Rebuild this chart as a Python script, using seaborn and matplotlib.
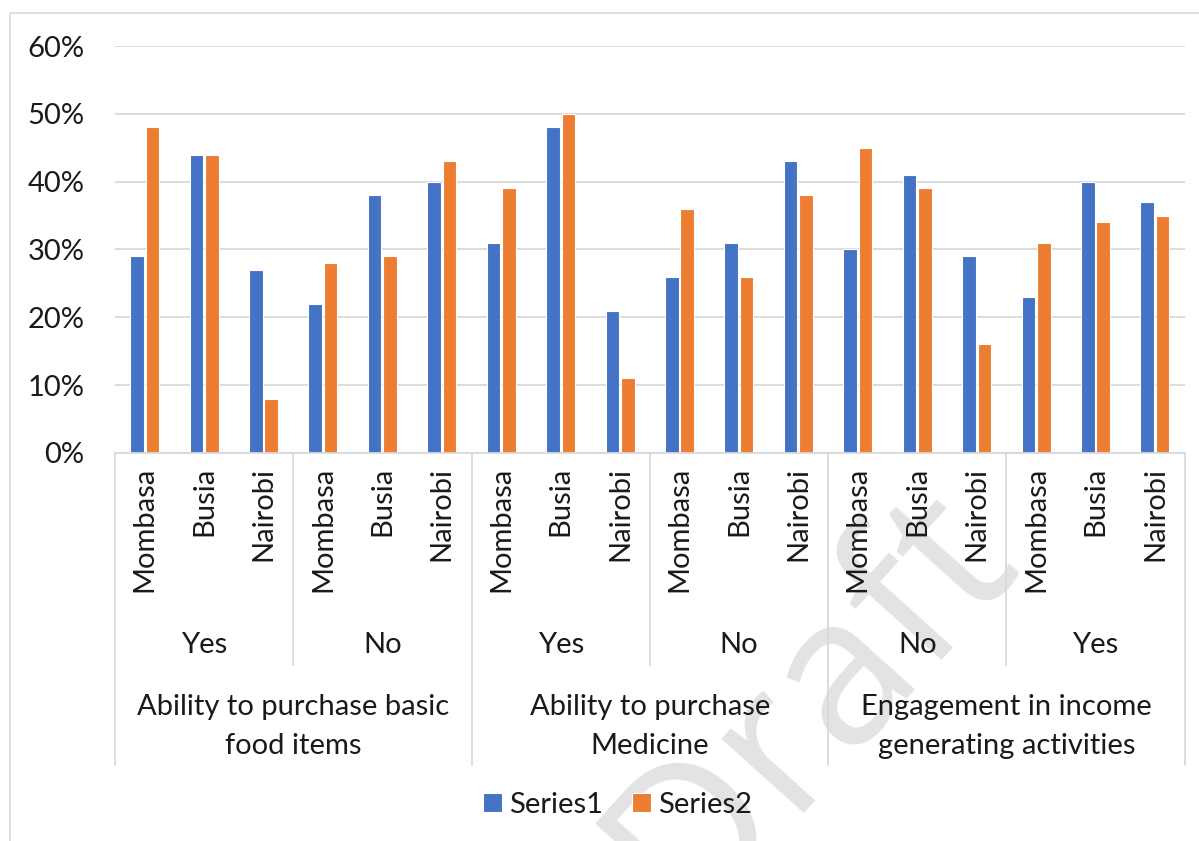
import numpy as np
import pandas as pd
import seaborn as sns
import matplotlib.pyplot as plt
import matplotlib.transforms as mtrans
from matplotlib.ticker import PercentFormatter
from matplotlib.patches import Rectangle

# data (percent)
groups = ['Ability to purchase basic\nfood items', 'Ability to purchase\nMedicine',
          'Engagement in income\ngenerating activities']
answers = ['Yes', 'No', 'Yes', 'No', 'No', 'Yes']
cities = ['Mombasa', 'Busia', 'Nairobi']
series1 = [29, 44, 27, 22, 38, 40, 31, 48, 21, 26, 31, 43, 30, 41, 29, 23, 40, 37]
series2 = [48, 44, 8, 28, 29, 43, 39, 50, 11, 36, 26, 38, 45, 39, 16, 31, 34, 35]

n = len(series1)
slots = [str(i) for i in range(n)]
df = pd.DataFrame({'slot': slots * 2,
                   'value': np.array(series1 + series2) / 100,
                   'series': ['Series1'] * n + ['Series2'] * n})

sns.set_theme(style='white')
plt.rcParams['font.family'] = ['Lato', 'DejaVu Sans']
txt = '#1a1a1a'
grid_c = '#d9d9d9'
fs = 21

fig, ax = plt.subplots(figsize=(11.99, 8.41), dpi=100)
fig.subplots_adjust(left=0.0959, right=0.988, top=0.9453, bottom=0.4614)

# outer chart border (left + top visible)
fig.patches.append(Rectangle((10 / 1199, -0.01), 1.0, 1 - 13 / 841 + 0.01, transform=fig.transFigure,
                             fill=False, edgecolor=grid_c, lw=1.2, zorder=-2))
# watermark, behind everything
fig.text(0.677, 0.165, 'Draft', rotation=48, fontsize=150, color='#e3e3e3',
         family=['Open Sans', 'DejaVu Sans'], ha='center', va='center', zorder=-1)

sns.barplot(data=df, x='slot', y='value', hue='series', order=slots,
            palette=['#4472C4', '#ED7D31'], saturation=1, width=0.52, gap=0.12,
            edgecolor='white', linewidth=0.8, ax=ax)
ax.set_facecolor('none')
fig.patch.set_facecolor('white')

ax.set_ylim(0, 0.6)
ax.set_xlim(-0.5, n - 0.5)
ax.set_yticks(np.arange(0, 0.61, 0.1))
ax.yaxis.set_major_formatter(PercentFormatter(1.0, decimals=0))
ax.yaxis.grid(True, color=grid_c, lw=1.3)
ax.set_axisbelow(True)
for s in ['left', 'top', 'right']:
    ax.spines[s].set_visible(False)
ax.spines['bottom'].set_color(grid_c)
ax.spines['bottom'].set_linewidth(1.3)
ax.tick_params(axis='y', length=0, labelsize=fs, pad=22, labelcolor=txt)
ax.tick_params(axis='x', length=0, labelbottom=False)
ax.set_xlabel('')
ax.set_ylabel('')

# multi-level category axis
trans = mtrans.blended_transform_factory(ax.transData, ax.transAxes)
for i in range(n):
    ax.text(i, -0.035, cities[i % 3], rotation=90, ha='center', va='top',
            fontsize=fs, color=txt, transform=trans)
for j, a in enumerate(answers):
    ax.text(3 * j + 1, -0.472, a, ha='center', va='center', fontsize=fs,
            color=txt, transform=trans)
for k, g in enumerate(groups):
    ax.text(6 * k + 2.5, -0.672, g, ha='center', va='center', fontsize=fs,
            color=txt, linespacing=1.6, transform=trans)
for b in range(0, n + 1, 3):
    yend = -0.767 if b % 6 == 0 else -0.521
    ax.plot([b - 0.5, b - 0.5], [0, yend], transform=trans, color=grid_c,
            lw=1.3, clip_on=False)

ax.legend(loc='center', bbox_to_anchor=(0.515, 0.043), bbox_transform=fig.transFigure,
          ncol=2, frameon=False, fontsize=fs, handlelength=0.65, handleheight=0.65,
          handletextpad=0.25, columnspacing=1.0, labelcolor=txt)

fig.savefig('out.png', dpi=100)
